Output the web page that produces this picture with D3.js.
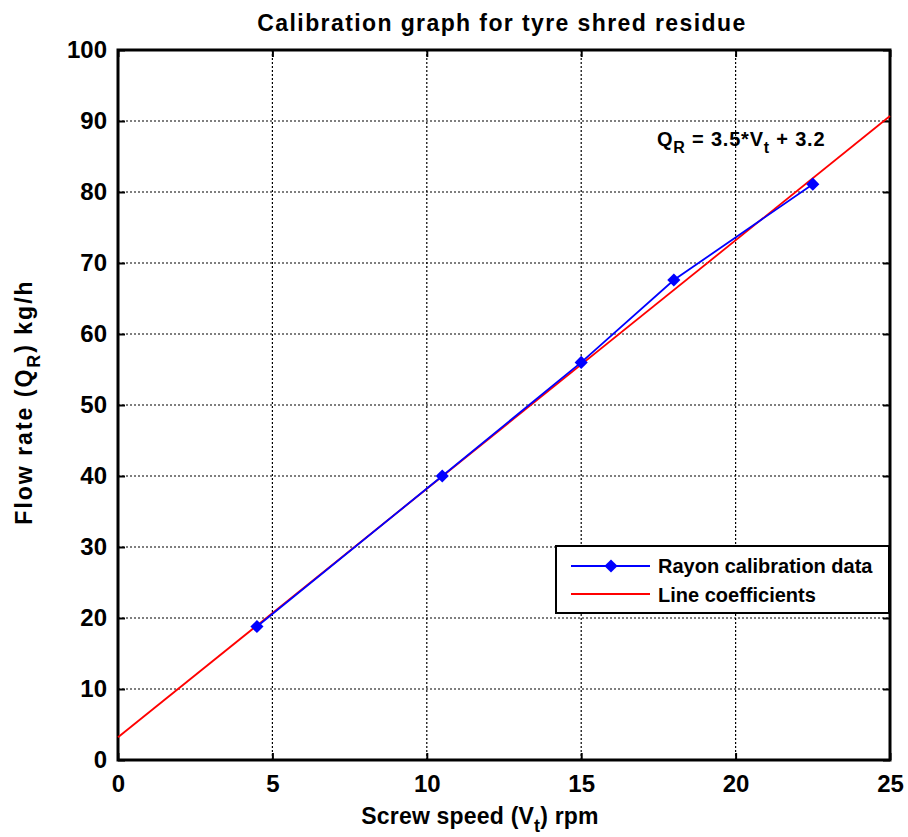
<!DOCTYPE html>
<html>
<head>
<meta charset="utf-8">
<script src="https://cdn.jsdelivr.net/npm/d3@7"></script>
<style>
  body { margin: 0; background: #fff; }
  text { font-family: "Liberation Sans", Arial, sans-serif; }
</style>
</head>
<body>
<svg id="chart" width="908" height="837"></svg>
<script>
// calibration measurements
const speedData = [4.5, 10.5, 15, 18, 22.5]
const flowData = [18.8, 40, 56, 67.6, 81.1]
// fitted line end points (Q = 3.5*V + 3.2)
const fitSpeed = [0, 25]
const fitFlow = [3.2, 90.7]

const xTicks = [0, 5, 10, 15, 20, 25]
const yTicks = [0, 10, 20, 30, 40, 50, 60, 70, 80, 90, 100]

const margin = { left: 118, right: 18, top: 50, bottom: 77 }
const width = 908, height = 837

const svg = d3.select('#chart')

const x = d3.scaleLinear().domain([0, 25]).range([margin.left, width - margin.right])
const y = d3.scaleLinear().domain([0, 100]).range([height - margin.bottom, margin.top])

// dotted grid
const grid = svg.append('g')
grid.selectAll('line.gx').data(xTicks.slice(1, -1)).join('line')
    .attr('class', 'gx')
    .attr('x1', d => x(d)).attr('x2', d => x(d))
    .attr('y1', y(0)).attr('y2', y(100))
    .attr('stroke', '#000').attr('stroke-width', 1.2)
    .attr('stroke-dasharray', '2,2')
grid.selectAll('line.gy').data(yTicks.slice(1, -1)).join('line')
    .attr('class', 'gy')
    .attr('y1', d => y(d)).attr('y2', d => y(d))
    .attr('x1', x(0)).attr('x2', x(25))
    .attr('stroke', '#000').attr('stroke-width', 1.2)
    .attr('stroke-dasharray', '2,2')

// axes (ticks inward)
const xAxis = svg.append('g')
    .attr('transform', `translate(0,${y(0)})`)
    .call(d3.axisBottom(x).tickValues(xTicks).tickSize(-7).tickPadding(12).tickFormat(d3.format('d')))
const yAxis = svg.append('g')
    .attr('transform', `translate(${x(0)},0)`)
    .call(d3.axisLeft(y).tickValues(yTicks).tickSize(-7).tickPadding(11).tickFormat(d3.format('d')))
svg.append('g')
    .attr('transform', `translate(0,${y(100)})`)
    .call(d3.axisTop(x).tickValues(xTicks).tickSize(-7).tickFormat(''))
svg.append('g')
    .attr('transform', `translate(${x(25)},0)`)
    .call(d3.axisRight(y).tickValues(yTicks).tickSize(-7).tickFormat(''))

svg.selectAll('.domain').remove()
svg.selectAll('.tick line').attr('stroke', '#000').attr('stroke-width', 2)
svg.selectAll('.tick text')
    .attr('fill', '#000')
    .style('font-size', '24px')
    .style('font-weight', 'bold')
xAxis.selectAll('.tick text').attr('dy', '0.85em')

// frame
svg.append('rect')
    .attr('x', x(0)).attr('y', y(100))
    .attr('width', x(25) - x(0)).attr('height', y(0) - y(100))
    .attr('fill', 'none').attr('stroke', '#000').attr('stroke-width', 3)

// fitted line
const fitPts = fitSpeed.map((s, i) => [s, fitFlow[i]])
svg.append('path')
    .datum(fitPts)
    .attr('d', d3.line().x(d => x(d[0])).y(d => y(d[1])))
    .attr('fill', 'none').attr('stroke', '#ff0000').attr('stroke-width', 1.8)

// calibration data
const dataPts = speedData.map((s, i) => [s, flowData[i]])
svg.append('path')
    .datum(dataPts)
    .attr('d', d3.line().x(d => x(d[0])).y(d => y(d[1])))
    .attr('fill', 'none').attr('stroke', '#0000ff').attr('stroke-width', 1.8)
svg.selectAll('.marker').data(dataPts).join('path')
    .attr('class', 'marker')
    .attr('d', d3.symbol(d3.symbolDiamond2, 110))
    .attr('transform', d => `translate(${x(d[0])},${y(d[1])})`)
    .attr('fill', '#0000ff')

// equation annotation
const eq = svg.append('text')
    .attr('x', 657).attr('y', 146)
    .style('font-size', '20px').style('font-weight', 'bold')
    .style('letter-spacing', '0.8px')
eq.append('tspan').text('Q')
eq.append('tspan').attr('dy', 7).style('font-size', '16px').text('R')
eq.append('tspan').attr('dy', -7).text(' = 3.5*V')
eq.append('tspan').attr('dy', 7).style('font-size', '16px').text('t')
eq.append('tspan').attr('dy', -7).text(' + 3.2')

// legend
const lg = svg.append('g').attr('transform', 'translate(556,546)')
lg.append('rect')
    .attr('width', 333).attr('height', 67)
    .attr('fill', '#fff').attr('stroke', '#000').attr('stroke-width', 2)
lg.append('line').attr('x1', 15).attr('x2', 94).attr('y1', 20).attr('y2', 20)
    .attr('stroke', '#0000ff').attr('stroke-width', 1.8)
lg.append('path').attr('d', d3.symbol(d3.symbolDiamond2, 110))
    .attr('transform', 'translate(55,20)').attr('fill', '#0000ff')
lg.append('line').attr('x1', 15).attr('x2', 94).attr('y1', 48).attr('y2', 48)
    .attr('stroke', '#ff0000').attr('stroke-width', 1.8)
lg.append('text').attr('x', 102).attr('y', 27).text('Rayon calibration data')
    .style('font-size', '20px').style('font-weight', 'bold')
lg.append('text').attr('x', 102).attr('y', 56).text('Line coefficients')
    .style('font-size', '20px').style('font-weight', 'bold')

// title
svg.append('text')
    .attr('x', 502).attr('y', 31)
    .attr('text-anchor', 'middle')
    .style('font-size', '23px').style('font-weight', 'bold')
    .style('letter-spacing', '1.4px')
    .text('Calibration graph for tyre shred residue')

// x label
const xl = svg.append('text')
    .attr('x', 480).attr('y', 824)
    .attr('text-anchor', 'middle')
    .style('font-size', '23px').style('font-weight', 'bold')
    .style('letter-spacing', '0.2px')
xl.append('tspan').text('Screw speed (V')
xl.append('tspan').attr('dy', 8).style('font-size', '18px').text('t')
xl.append('tspan').attr('dy', -8).text(') rpm')

// y label
const yl = svg.append('text')
    .attr('transform', `translate(32,402) rotate(-90)`)
    .attr('text-anchor', 'middle')
    .style('font-size', '23px').style('font-weight', 'bold')
    .style('letter-spacing', '2px')
yl.append('tspan').text('Flow rate (Q')
yl.append('tspan').attr('dy', 8).style('font-size', '18px').text('R')
yl.append('tspan').attr('dy', -8).text(') kg/h')
</script>
</body>
</html>
